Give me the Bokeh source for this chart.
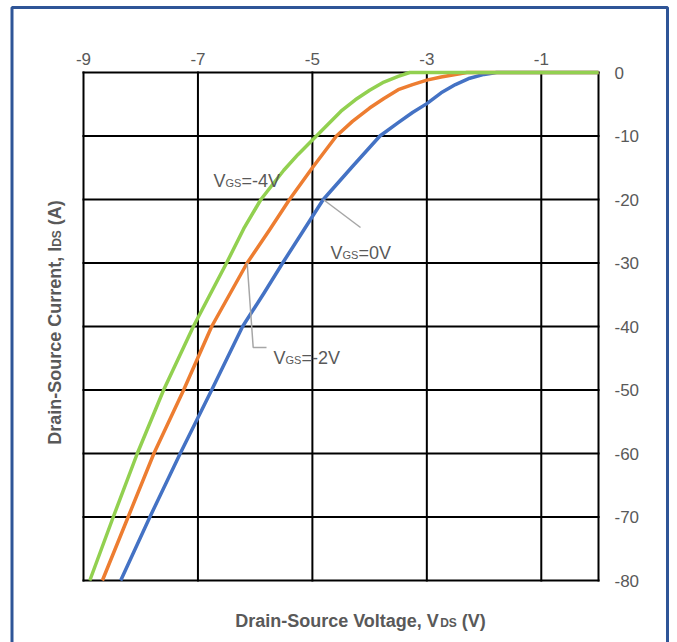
import numpy as np
from bokeh.plotting import figure
from bokeh.models import Range1d, Label, BoxAnnotation, Grid
from bokeh.core.properties import value
from bokeh.embed import file_html
from bokeh.resources import INLINE

# ---------------- data ----------------
x_ticks = [-9, -7, -5, -3, -1]
y_ticks = [0, -10, -20, -30, -40, -50, -60, -70, -80]
x_min, x_max = -9, 0
y_min, y_max = -80, 0

# VGS = 0V (blue)
vds_0v = [0, -1.78, -2.0, -2.25, -2.5, -2.75, -3.0, -3.25, -3.5, -3.82, -4.3, -4.81, -5.15, -5.52,
          -5.85, -6.22, -6.76, -7.31, -7.84, -8.35]
ids_0v = [0, 0, -0.3, -0.9, -1.9, -3.2, -4.9, -6.3, -7.9, -10, -14.8, -20, -24.8, -30,
          -34.8, -40, -50, -60, -70, -80]

# VGS = -2V (orange)
vds_m2v = [0, -2.3, -2.5, -2.75, -3.0, -3.25, -3.5, -3.75, -4.0, -4.3, -4.58, -5.0, -5.40, -5.75,
           -6.14, -6.76, -7.25, -7.77, -8.22, -8.67]
ids_m2v = [0, 0, -0.3, -0.7, -1.2, -1.9, -2.7, -4.1, -5.6, -7.7, -10, -15.0, -20, -24.8,
           -30, -40, -50, -60, -70, -80]

# VGS = -4V (green)
vds_m4v = [0, -3.3, -3.5, -3.75, -4.0, -4.25, -4.5, -4.93, -5.25, -5.5, -5.9, -6.2, -6.5, -7.08,
           -7.6, -8.06, -8.48, -8.89]
ids_m4v = [0, 0, -0.6, -1.5, -2.8, -4.3, -6.1, -10, -12.9, -15.4, -20, -24.6, -30, -40,
           -50, -60, -70, -80]

BLUE, ORANGE, GREEN = "#4472c4", "#ed7d31", "#92d050"
GRAY_TXT = "#595959"
LEADER = "#a6a6a6"
FONT = "Liberation Sans"

# ---------------- layout (page px == canvas px) ----------------
W, H = 670, 642
BOX_L, BOX_R, BOX_T, BOX_B = 83, 598, 72, 580   # plot box in px
SX = (BOX_R - BOX_L) / (x_max - x_min)
SY = (BOX_B - BOX_T) / (y_max - y_min)


def dx(px):
    return x_min + (px - BOX_L) / SX


def dy(py):
    return y_max - (py - BOX_T) / SY


p = figure(width=W, height=H, output_backend="svg", toolbar_location=None,
           x_range=Range1d(dx(0), dx(W)), y_range=Range1d(dy(H), dy(0)),
           x_axis_location=None, y_axis_location=None,
           min_border_left=0, min_border_right=0, min_border_top=0, min_border_bottom=0)
p.background_fill_color = "white"
p.border_fill_color = "white"
p.outline_line_color = None
p.center = [r for r in p.center if not isinstance(r, Grid)]

# ---------------- grid / plot box ----------------
vx = sorted(set(x_ticks + [x_min, x_max]))
p.segment(x0=vx, y0=[y_min] * len(vx), x1=vx, y1=[y_max] * len(vx),
          line_color="black", line_width=2, line_cap="square")
p.segment(x0=[x_min] * len(y_ticks), y0=y_ticks, x1=[x_max] * len(y_ticks), y1=y_ticks,
          line_color="black", line_width=2, line_cap="square")

# tick labels
p.text(x=x_ticks, y=[dy(58.5)] * len(x_ticks), text=[str(t) for t in x_ticks],
       text_font=value(FONT), text_font_size="17px", text_color=GRAY_TXT,
       text_align="center", text_baseline="alphabetic")
p.text(x=[dx(614)] * len(y_ticks), y=y_ticks, text=[str(t) for t in y_ticks],
       text_font=value(FONT), text_font_size="17px", text_color=GRAY_TXT,
       text_align="left", text_baseline="middle")

# ---------------- curves ----------------
p.line(vds_0v, ids_0v, line_color=BLUE, line_width=3.5, line_join="round")
p.line(vds_m2v, ids_m2v, line_color=ORANGE, line_width=3.5, line_join="round")
p.line(vds_m4v, ids_m4v, line_color=GREEN, line_width=3.5, line_join="round")

# ---------------- text helpers ----------------
REG = {'V': 667, 'G': 778, 'S': 667, '=': 584, '-': 333, '0': 556, '2': 556, '4': 556}
BOLD = {'D': 722, 'r': 389, 'a': 556, 'i': 278, 'n': 611, '-': 333, 'S': 667, 'o': 611,
        'u': 611, 'c': 556, 'e': 556, ' ': 278, 'V': 667, 'l': 278, 't': 333, 'g': 611,
        ',': 278, 'C': 722, 'I': 278, 'A': 722, '(': 333, ')': 333}


def tw(text, size, bold):
    table = BOLD if bold else REG
    return sum(table.get(c, 556) for c in text) * size / 1000.0


def compose(px, py, parts, bold=False, vertical=False):
    """parts: list of (text, size, sub_shift_px). px,py: px position of baseline start."""
    pos = 0.0
    for text, size, shift in parts:
        lead = len(text) - len(text.lstrip(" "))
        pos += tw(" " * lead, size, bold)
        text = text.lstrip(" ")
        if vertical:
            cx, cy, angle = px + shift, py - pos, np.pi / 2
        else:
            cx, cy, angle = px + pos, py + shift, 0
        p.add_layout(Label(x=dx(cx), y=dy(cy), text=text, angle=angle, text_font=FONT,
                           text_font_size=f"{size}px",
                           text_font_style="bold" if bold else "normal",
                           text_color=GRAY_TXT, text_align="left",
                           text_baseline="alphabetic"))
        pos += tw(text, size, bold)


# axis titles
xt_parts = [("Drain-Source Voltage, V", 18, 0), ("DS", 12, 2), (" (V)", 18, 0)]
xt_w = sum(tw(t, s, True) for t, s, _ in xt_parts)
compose(360 - xt_w / 2, 620, xt_parts, bold=True)

yt_parts = [("Drain-Source Current, I", 18, 0), ("DS", 12, 2), (" (A)", 18, 0)]
yt_w = sum(tw(t, s, True) for t, s, _ in yt_parts)
compose(54, 322 + yt_w / 2, yt_parts, bold=True, vertical=True)

# curve labels
compose(213, 180, [("V", 18, 0), ("GS", 11, 2), ("=-4V", 18, 0)])
compose(330, 252, [("V", 18, 0), ("GS", 11, 2), ("=0V", 18, 0)])
compose(273, 357, [("V", 18, 0), ("GS", 11, 2), ("=-2V", 18, 0)])

# leader lines (start on the curves)
v0 = float(np.interp(-20, ids_0v[::-1], vds_0v[::-1]))
p.line([v0, dx(360)], [-20, dy(227)], line_color=LEADER, line_width=1.5)
v2 = float(np.interp(-30, ids_m2v[::-1], vds_m2v[::-1]))
p.line([v2, dx(252.7), dx(266)], [-30, dy(347), dy(347)], line_color=LEADER, line_width=1.5)

# outer blue frame
p.add_layout(BoxAnnotation(left=dx(11.5), right=dx(667), top=dy(7), bottom=dy(720),
                           fill_color=None, fill_alpha=0, line_color="#2f5597",
                           line_alpha=1.0, line_width=3))

open("out.html", "w").write(file_html(p, INLINE))
